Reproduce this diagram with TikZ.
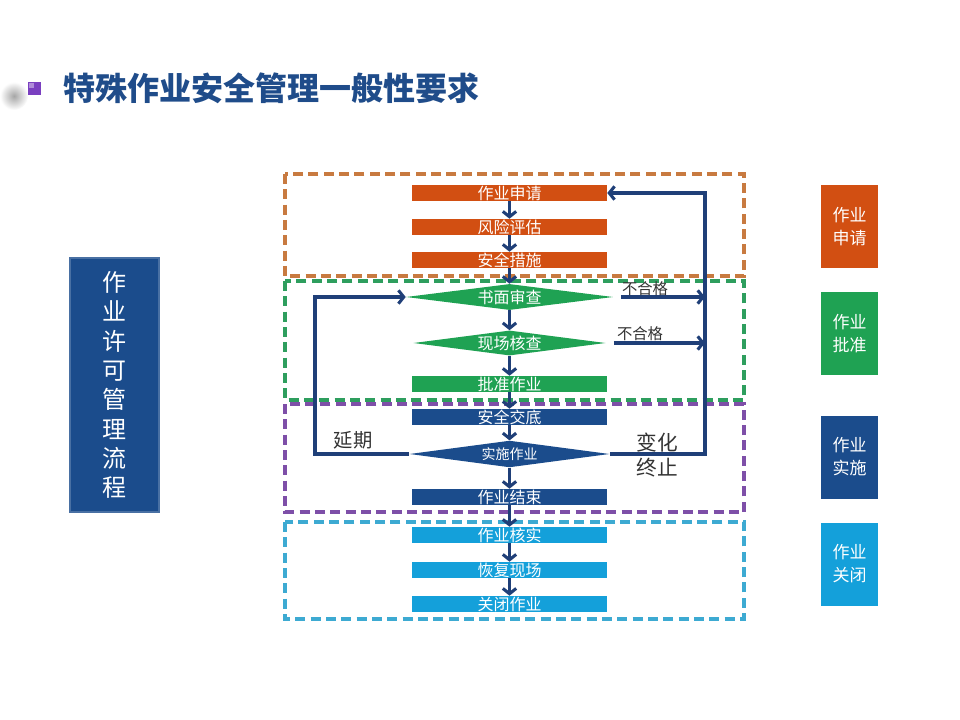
\documentclass[tikz,border=0pt]{standalone}
\usepackage{fontspec}
\setmainfont{Noto Sans CJK SC}
\usetikzlibrary{shapes.geometric,arrows.meta}
\definecolor{titlec}{HTML}{1F4C8A}
\definecolor{orangef}{HTML}{D24F12}
\definecolor{greenf}{HTML}{1FA253}
\definecolor{bluef}{HTML}{1B4C8C}
\definecolor{cyanf}{HTML}{14A0DA}
\definecolor{arrowc}{HTML}{1F3F78}
\definecolor{oranged}{HTML}{C87A40}
\definecolor{greend}{HTML}{2E9E5E}
\definecolor{purpled}{HTML}{7E4FA8}
\definecolor{cyand}{HTML}{3DAAD2}
\definecolor{labelc}{HTML}{333333}
\definecolor{sqc}{HTML}{7A3FC0}
\begin{document}
\begin{tikzpicture}[x=0.75pt,y=-0.75pt,
  proc/.style={rectangle, minimum width=146.25pt, minimum height=12pt, inner sep=0pt, text=white, font=\fontsize{12}{12}\selectfont},
  dec/.style={diamond, aspect=8, inner sep=0pt, text=white, font=\fontsize{12}{12}\selectfont},
  arr/.style={draw=arrowc, line width=2.3pt, -{Straight Barb[length=4pt,width=10pt]}},
  grp/.style={line width=2.4pt, dash pattern=on 7.5pt off 4pt},
  side/.style={rectangle, minimum width=42.75pt, minimum height=62.25pt, inner sep=0pt, text=white, align=center, font=\fontsize{12.75}{17.25}\selectfont},
  lbl/.style={text=labelc, inner sep=0pt}
]
\useasboundingbox (0,0) rectangle (960,720);
\fill[white] (0,0) rectangle (960,720);
% title
\shade[inner color=black!35, outer color=white] (14,96) circle (14);
\fill[sqc] (28,82) rectangle (41,95);
\fill[sqc!60!white] (29,83) rectangle (34,88);
\node[anchor=west, text=titlec, inner sep=0pt, font=\fontsize{24}{24}\selectfont\bfseries] (title) at (63,88) {特殊作业安全管理一般性要求};
% left box
\node[rectangle, fill=bluef, draw=bluef!80!white, line width=1pt, minimum width=66.75pt, minimum height=190.5pt, inner sep=0pt, text=white, align=center, font=\fontsize{18}{22}\selectfont] (lbox) at (114.5,385) {作\\业\\许\\可\\管\\理\\流\\程};
% group frames
\draw[grp, oranged] (285,174) rectangle (744,276);
\draw[grp, greend] (285,281) rectangle (744,400);
\draw[grp, purpled] (285,404) rectangle (744,512);
\draw[grp, cyand] (285,522) rectangle (744,619);
% process nodes
\node[proc, fill=orangef] (sq) at (509.5,193) {作业申请};
\node[proc, fill=orangef] (fx) at (509.5,227) {风险评估};
\node[proc, fill=orangef] (aq) at (509.5,260) {安全措施};
\node[dec, fill=greenf, minimum width=155.25pt, minimum height=19.5pt] (sm) at (509.5,297) {书面审查};
\node[dec, fill=greenf, minimum width=144pt, minimum height=18.75pt] (xc) at (509.5,343) {现场核查};
\node[proc, fill=greenf] (pz) at (509.5,384) {批准作业};
\node[proc, fill=bluef] (jd) at (509.5,417) {安全交底};
\node[dec, fill=bluef, minimum width=150pt, minimum height=20pt, font=\fontsize{10.5}{10.5}\selectfont] (ss) at (509.5,454) {实施作业};
\node[proc, fill=bluef] (js) at (509.5,497) {作业结束};
\node[proc, fill=cyanf] (hs) at (509.5,535) {作业核实};
\node[proc, fill=cyanf] (hf) at (509.5,570) {恢复现场};
\node[proc, fill=cyanf] (gb) at (509.5,604) {关闭作业};
% side nodes
\node[side, fill=orangef] (s1) at (849.5,226.5) {作业\\申请};
\node[side, fill=greenf] (s2) at (849.5,333.5) {作业\\批准};
\node[side, fill=bluef] (s3) at (849.5,457) {作业\\实施};
\node[side, fill=cyanf] (s4) at (849.5,564) {作业\\关闭};
% coordinates for loops
\coordinate (R) at (705,193);
\coordinate (L) at (315,454);
% vertical arrows
\draw[arr] (sq.south) -- (fx.north);
\draw[arr] (fx.south) -- (aq.north);
\draw[arr] (aq.south) -- (sm.north);
\draw[arr] (sm.south) -- (xc.north);
\draw[arr] (xc.south) -- (pz.north);
\draw[arr] (pz.south) -- (jd.north);
\draw[arr] (jd.south) -- (ss.north);
\draw[arr] (ss.south) -- (js.north);
\draw[arr] (js.south) -- (hs.north);
\draw[arr] (hs.south) -- (hf.north);
\draw[arr] (hf.south) -- (gb.north);
% right loop
\draw[arr, shorten <=6pt] (sm.east) -- (sm.east -| R);
\draw[arr, shorten <=6pt] (xc.east) -- (xc.east -| R);
\draw[arr] (ss.east) -- (ss.east -| R) -- (R |- sq.east) -- (sq.east);
% left loop
\draw[arr] (ss.west) -- (L) |- (sm.west);
% labels
\node[lbl, font=\fontsize{11.5}{11.5}\selectfont] (n1) at (645,289) {不合格};
\node[lbl, font=\fontsize{11.5}{11.5}\selectfont] (n2) at (640,334) {不合格};
\node[lbl, font=\fontsize{14.5}{14.5}\selectfont] (yq) at (353,440) {延期};
\node[lbl, align=center, font=\fontsize{15.5}{19}\selectfont] (bh) at (657,455) {变化\\终止};
\end{tikzpicture}
\end{document}
